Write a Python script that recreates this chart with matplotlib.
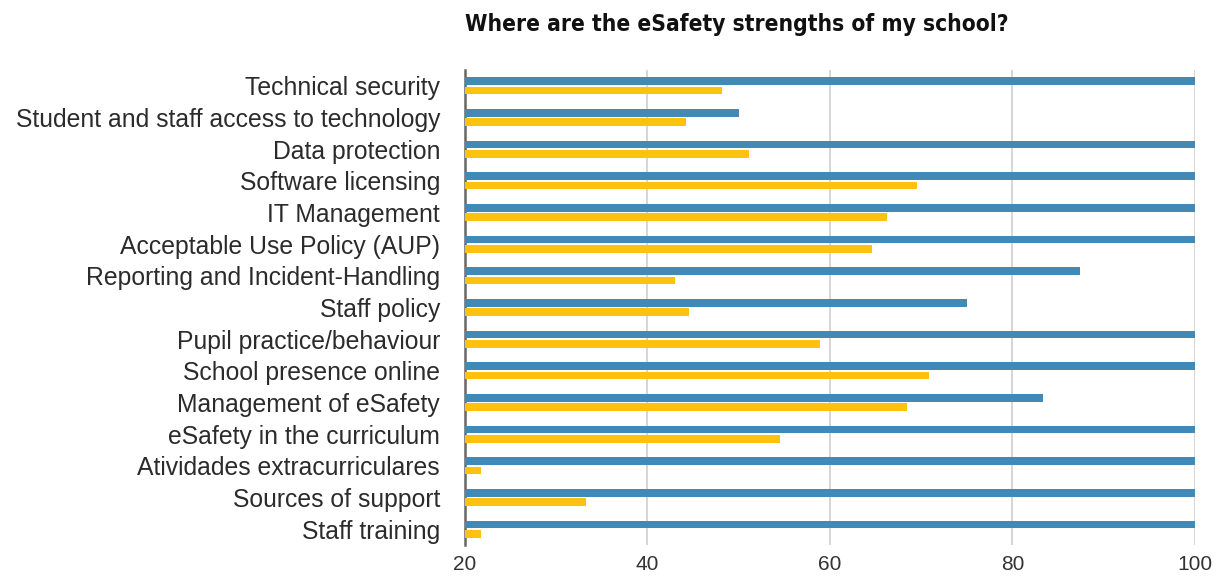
#!/usr/bin/env python3
"""
eSafety strengths bar chart
"""

import numpy as np
import matplotlib
matplotlib.use("Agg")
import matplotlib.pyplot as plt

categories = [
    "Technical security",
    "Student and staff access to technology",
    "Data protection",
    "Software licensing",
    "IT Management",
    "Acceptable Use Policy (AUP)",
    "Reporting and Incident-Handling",
    "Staff policy",
    "Pupil practice/behaviour",
    "School presence online",
    "Management of eSafety",
    "eSafety in the curriculum",
    "Atividades extracurriculares",
    "Sources of support",
    "Staff training",
]
blue_values = [100, 50, 100, 100, 100, 100, 87.4, 75, 100, 100, 83.3, 100, 100, 100, 100]
yellow_values = [48.2, 44.2, 51.1, 69.5, 66.2, 64.6, 43, 44.5, 58.9, 70.9, 68.4, 54.5, 21.7, 33.3, 21.7]
x_ticks = [20, 40, 60, 80, 100]
title = "Where are the eSafety strengths of my school?"

BLUE = "#4289b5"
YELLOW = "#fdc10f"

plt.rcParams['font.family'] = ['Liberation Sans', 'DejaVu Sans']

fig = plt.figure(figsize=(12.18, 5.81), dpi=100)
ax = fig.add_axes([0.3818, 0.062, 0.981 - 0.3818, 0.8795 - 0.062])

y = np.arange(len(categories))
h = 0.24
left = x_ticks[0]
ax.barh(y - 0.145, np.array(blue_values) - left, left=left, height=h, color=BLUE, zorder=3)
ax.barh(y + 0.145, np.array(yellow_values) - left, left=left, height=h, color=YELLOW, zorder=3)

ax.set_xlim(x_ticks[0], x_ticks[-1])
ax.set_ylim(len(categories) - 0.5, -0.5)
ax.set_yticks(y)
ax.set_yticklabels(categories, fontsize=17.8, color="#2b2b2b")
ax.set_xticks(x_ticks)
ax.set_xticklabels([str(t) for t in x_ticks], fontsize=15, color="#333333")
ax.tick_params(axis='both', length=0)
ax.tick_params(axis='y', pad=18)
ax.tick_params(axis='x', pad=7)

ax.grid(axis='x', color="#d0d0d0", linewidth=1.2, zorder=0)
for side in ['top', 'right', 'bottom']:
    ax.spines[side].set_visible(False)
ax.spines['left'].set_color("#666666")
ax.spines['left'].set_linewidth(1.8)

fig.text(0.605, 0.958, title, ha='center', va='center', fontsize=16.3,
         fontweight='bold', fontstretch='condensed',
         family=['DejaVu Sans'], color="#111111")

fig.savefig("out.png", dpi=100)
